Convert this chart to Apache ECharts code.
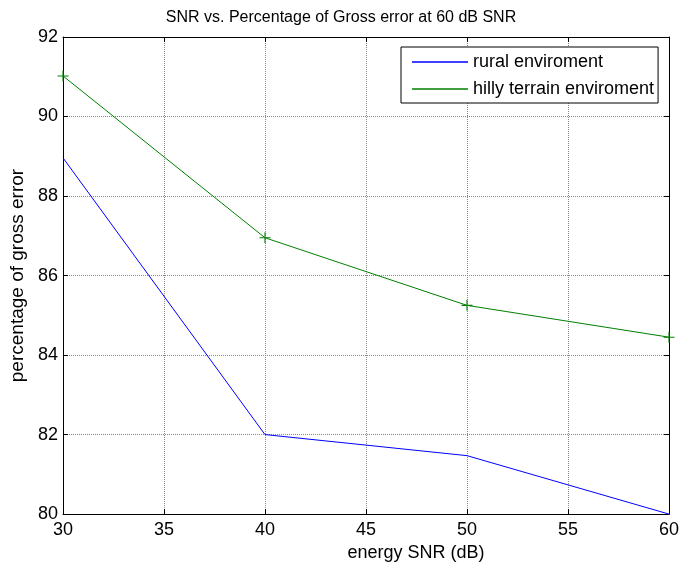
<!DOCTYPE html>
<html>
<head>
<meta charset="utf-8">
<script src="https://cdn.jsdelivr.net/npm/echarts@6/dist/echarts.min.js"></script>
<style>html,body{margin:0;padding:0;background:#fff}#c{width:682px;height:567px}</style>
</head>
<body>
<div id="c"></div>
<script>
const snr = [30, 40, 50, 60];
const rural = [88.96, 82.0, 81.47, 80.0];
const hilly = [91.02, 86.95, 85.25, 84.45];
const xTicks = [30, 35, 40, 45, 50, 55, 60];
const yTicks = [80, 82, 84, 86, 88, 90, 92];

const font = 'Liberation Sans, Arial, sans-serif';
const plus = 'path://M4.5,0 h1 v4.5 h4.5 v1 h-4.5 v4.5 h-1 v-4.5 h-4.5 v-1 h4.5 z';

const chart = echarts.init(document.getElementById('c'));
const baseX = {
  type: 'value', min: 30, max: 60, interval: 5,
  axisLine: {show: true, lineStyle: {color: '#000', width: 1}},
  axisTick: {show: true, inside: true, length: 5, lineStyle: {color: '#000'}},
};
const baseY = {
  type: 'value', min: 80, max: 92, interval: 2,
  axisLine: {show: true, lineStyle: {color: '#000', width: 1}},
  axisTick: {show: true, inside: true, length: 5, lineStyle: {color: '#000'}},
};
chart.setOption({
  animation: false,
  backgroundColor: '#fff',
  title: {
    text: 'SNR vs. Percentage of Gross error at 60 dB SNR',
    left: 'center', top: 5,
    textStyle: {fontFamily: font, fontSize: 16, fontWeight: 'normal', color: '#000'}
  },
  grid: {left: 63, right: 13, top: 37, bottom: 52},
  legend: {
    left: 401, top: 47, orient: 'vertical',
    padding: [6, 4, 5, 11], itemGap: 9,
    borderColor: '#000', borderWidth: 1, backgroundColor: '#fff',
    icon: 'rect', itemWidth: 56, itemHeight: 1.5,
    textStyle: {fontFamily: font, fontSize: 18, color: '#000'},
    data: ['rural enviroment', 'hilly terrain enviroment']
  },
  xAxis: [
    Object.assign({}, baseX, {
      position: 'bottom',
      name: 'energy SNR (dB)', nameLocation: 'middle', nameGap: 26,
      nameTextStyle: {fontFamily: font, fontSize: 18, color: '#000', padding: [0, 0, 0, 100]},
      axisLabel: {fontFamily: font, fontSize: 18, color: '#000', margin: 7, customValues: xTicks},
      splitLine: {show: true, lineStyle: {color: '#888', type: [1, 1], width: 1}}
    }),
    Object.assign({}, baseX, {
      position: 'top', axisLabel: {show: false}, splitLine: {show: false}
    })
  ],
  yAxis: [
    Object.assign({}, baseY, {
      position: 'left',
      name: 'percentage of gross error', nameLocation: 'middle', nameGap: 36,
      nameTextStyle: {fontFamily: font, fontSize: 19, color: '#000'},
      axisLabel: {fontFamily: font, fontSize: 18, color: '#000', margin: 5, customValues: yTicks},
      splitLine: {show: true, lineStyle: {color: '#888', type: [1, 1], width: 1}}
    }),
    Object.assign({}, baseY, {
      position: 'right', axisLabel: {show: false}, splitLine: {show: false}
    })
  ],
  series: [
    {
      name: 'rural enviroment', type: 'line',
      data: snr.map((x, i) => [x, rural[i]]),
      showSymbol: false, symbol: 'none', clip: false,
      lineStyle: {color: '#0000ff', width: 1}, itemStyle: {color: '#0000ff'}
    },
    {
      name: 'hilly terrain enviroment', type: 'line',
      data: snr.map((x, i) => [x, hilly[i]]),
      symbol: plus, symbolSize: 11, showSymbol: true, clip: false,
      lineStyle: {color: '#008000', width: 1}, itemStyle: {color: '#008000'}
    }
  ]
});
</script>
</body>
</html>
